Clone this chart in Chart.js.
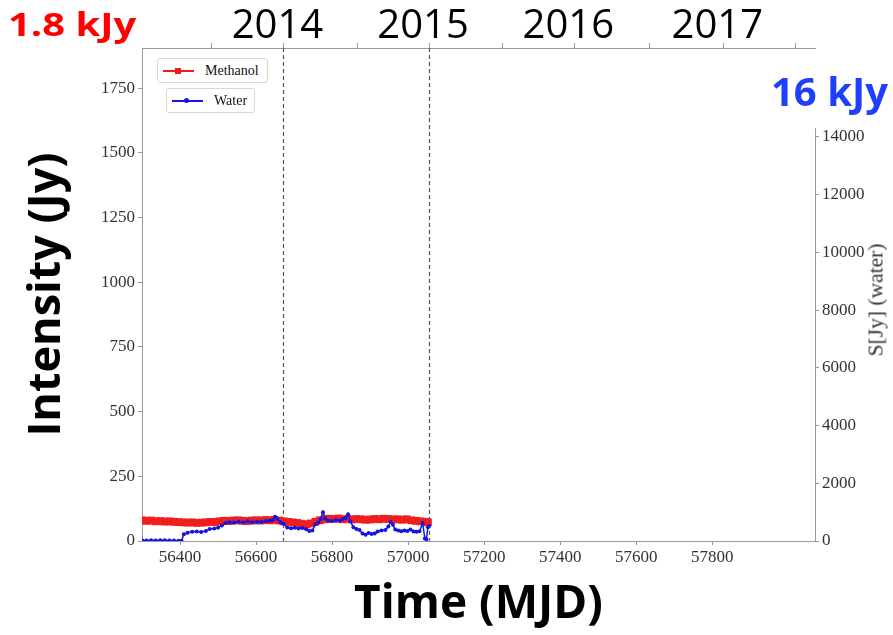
<!DOCTYPE html>
<html>
<head>
<meta charset="utf-8">
<script src="https://cdn.jsdelivr.net/npm/chart.js@4.4.0/dist/chart.umd.min.js"></script>
<style>
body{margin:0;background:#fff;}
#wrap{position:relative;width:893px;height:635px;}
#chartMaser{position:absolute;left:0;top:0;}
.note{position:absolute;font-family:"Open Sans",sans-serif;font-weight:700;line-height:1;white-space:nowrap;}
#noteMeth{left:8px;top:8px;font-size:40px;color:#ff0000;transform:scaleY(.8);transform-origin:0 0;}
#noteWater{left:771px;top:71px;font-size:40px;color:#1f3fff;}
#rightTitle{position:absolute;left:876px;top:300px;transform:translate(-50%,-50%) rotate(-90deg);
  font-family:"Liberation Serif",serif;font-size:21.5px;color:#333;white-space:nowrap;}
.legBox{position:absolute;height:25px;border:1px solid #d8d8d8;border-radius:3px;background:#fff;box-sizing:border-box;}
.legLine{position:absolute;left:5px;top:11px;width:31px;height:1.5px;}
.legSq{position:absolute;left:17px;top:9px;width:6px;height:6px;background:#ee1c1c;}
.legDot{position:absolute;left:17px;top:9px;width:5px;height:5px;border-radius:50%;background:#1515e0;}
.legText{position:absolute;left:47px;top:3px;font-family:"Liberation Serif",serif;font-size:14px;line-height:17px;color:#111;}
</style>
</head>
<body>
<div id="wrap">
  <canvas id="chartMaser" width="893" height="635"></canvas>
  <div class="note" id="noteMeth">1.8 kJy</div>
  <div class="note" id="noteWater">16 kJy</div>
  <div id="rightTitle">S[Jy] (water)</div>
  <div class="legBox" style="left:157px;top:58px;width:111px;">
    <span class="legLine" style="background:#ee1c1c"></span>
    <span class="legSq"></span>
    <span class="legText">Methanol</span>
  </div>
  <div class="legBox" style="left:166px;top:88px;width:89px;">
    <span class="legLine" style="background:#1515e0"></span>
    <span class="legDot"></span>
    <span class="legText">Water</span>
  </div>
</div>
<script>
/* ==========================================
   DATA
========================================== */
const methanolMjd = [56300,56312,56324,56336,56348,56360,56372,56384,56396,56408,
  56420,56432,56444,56456,56468,56480,56492,56504,56516,56528,
  56540,56552,56564,56576,56588,56600,56612,56624,56636,56648,
  56660,56672,56684,56696,56708,56720,56732,56744,56756,56768,
  56780,56792,56804,56816,56828,56840,56852,56864,56876,56888,
  56900,56912,56924,56936,56948,56960,56972,56984,56996,57008,
  57020,57032,57044,57052];
const methanolJy = [80,78,79,76,77,75,76,74,73,72,
  71,72,70,71,72,74,73,76,78,77,
  79,80,78,77,79,80,79,81,80,82,
  79,76,74,72,70,66,64,68,74,80,
  84,86,85,87,84,86,83,85,84,82,
  83,85,84,86,85,83,84,82,84,80,
  78,76,74,72];

const waterMjd = [56300,56312,56324,56336,56348,56360,56372,56384,56396,56404,
  56410,56420,56432,56444,56456,56468,56478,56490,56500,56510,
  56520,56530,56542,56554,56566,56578,56590,56602,56614,56626,
  56636,56644,56650,56656,56664,56672,56682,56692,56702,56712,
  56722,56732,56740,56748,56756,56764,56770,56776,56782,56790,
  56800,56810,56820,56828,56836,56842,56848,56856,56864,56872,
  56880,56888,56896,56904,56912,56920,56930,56940,56948,56954,
  56960,56966,56974,56982,56990,56998,57006,57014,57022,57030,
  57038,57044,57048,57052,57055];
const waterJy = [25,20,30,18,22,28,15,20,12,10,
  230,290,320,330,310,350,420,430,460,540,
  620,650,640,670,650,680,650,670,660,690,
  700,720,840,760,660,600,470,440,460,430,
  450,410,350,360,580,640,760,1000,780,700,
  690,730,700,760,800,930,680,480,420,380,
  260,220,280,240,260,330,360,380,500,660,
  560,400,360,340,360,350,400,330,320,340,
  620,90,60,480,520];

const bottomTicks = [56400,56600,56800,57000,57200,57400,57600,57800];
const leftTicks = [0,250,500,750,1000,1250,1500,1750];
const rightTicks = [0,2000,4000,6000,8000,10000,12000,14000];
const yearTickMjd = [56482,56672,56866,57055,57247,57437,57634,57829,58018];
const yearTickLabels = ["","2014","","2015","","2016","","2017",""];
const yearLineMjd = [56672,57055];

const mjdMin = 56300, mjdMax = 58070;
const leftMax = 1905, rightMax = 17080, rightSpineTop = 14300;

/* ==========================================
   PLUGINS
========================================== */
const yearLines = {
  id:"yearLines",
  beforeDatasetsDraw(chart){
    const {ctx, chartArea, scales} = chart;
    ctx.save();
    ctx.strokeStyle = "#555";
    ctx.lineWidth = 1.2;
    ctx.setLineDash([4,3]);
    yearLineMjd.forEach(m=>{
      const x = Math.round(scales.x.getPixelForValue(m)) + .5;
      ctx.beginPath();
      ctx.moveTo(x, chartArea.top);
      ctx.lineTo(x, chartArea.bottom);
      ctx.stroke();
    });
    ctx.restore();
  }
};

// right axis line only runs over the water scale part
const rightSpine = {
  id:"rightSpine",
  afterDraw(chart){
    const s = chart.scales.y2;
    const ctx = chart.ctx;
    const x = Math.round(s.left) + .5;
    ctx.save();
    ctx.strokeStyle = "#999";
    ctx.lineWidth = 1;
    ctx.beginPath();
    ctx.moveTo(x, s.getPixelForValue(rightSpineTop));
    ctx.lineTo(x, s.getPixelForValue(0));
    ctx.stroke();
    ctx.restore();
  }
};

/* ==========================================
   CHART
========================================== */
const tickFont = {family:"Liberation Serif", size:17};
const setTicks = list => s => { s.ticks = list.map(v=>({value:v})); };

new Chart(document.getElementById("chartMaser"), {
  type:"line",
  data:{
    datasets:[
      {
        label:"Water",
        data:waterMjd.map((m,i)=>({x:m, y:waterJy[i]})),
        xAxisID:"x",
        yAxisID:"y2",
        borderColor:"#1515e0",
        backgroundColor:"#1515e0",
        borderWidth:1.5,
        pointStyle:"circle",
        pointRadius:2,
        pointBorderWidth:0,
        order:0
      },
      {
        label:"Methanol",
        data:methanolMjd.map((m,i)=>({x:m, y:methanolJy[i]})),
        xAxisID:"x",
        yAxisID:"y",
        borderColor:"#f01e1e",
        backgroundColor:"#f01e1e",
        borderWidth:1.2,
        pointStyle:"rect",
        pointRadius:5.5,
        pointBorderWidth:0,
        order:1
      }
    ]
  },
  options:{
    responsive:false,
    animation:false,
    layout:{padding:0},
    plugins:{legend:{display:false}, tooltip:{enabled:false}},
    scales:{
      x:{
        type:"linear", position:"bottom", min:mjdMin, max:mjdMax,
        afterBuildTicks:setTicks(bottomTicks),
        afterFit:s=>{ s.height = 94; },
        grid:{drawOnChartArea:false, tickLength:4, color:"#999"},
        border:{color:"#999"},
        ticks:{font:tickFont, color:"#333", padding:2, autoSkip:false, maxRotation:0, callback:v=>String(v)},
        title:{display:true, text:"Time (MJD)", color:"#000",
          font:{family:"Open Sans", size:46, weight:"bold"}, padding:{top:0, bottom:3}}
      },
      x2:{
        type:"linear", position:"top", min:mjdMin, max:mjdMax,
        afterBuildTicks:setTicks(yearTickMjd),
        afterFit:s=>{ s.height = 48; },
        grid:{drawOnChartArea:false, tickLength:5, color:"#999"},
        border:{color:"#999"},
        ticks:{font:{family:"Open Sans", size:40, lineHeight:0.8}, color:"#000", padding:0,
          labelOffset:-6, autoSkip:false, maxRotation:0, callback:(v,i)=>yearTickLabels[i]}
      },
      y:{
        position:"left", min:0, max:leftMax,
        afterBuildTicks:setTicks(leftTicks),
        afterFit:s=>{ s.width = 142; },
        grid:{drawOnChartArea:false, tickLength:4, color:"#999"},
        border:{color:"#999"},
        ticks:{font:tickFont, color:"#333", padding:3, callback:v=>String(v)},
        title:{display:true, text:"Intensity (Jy)", color:"#000",
          font:{family:"Open Sans", size:45, weight:"bold"}, padding:{top:20, bottom:0}}
      },
      y2:{
        position:"right", min:0, max:rightMax,
        afterBuildTicks:setTicks(rightTicks),
        afterFit:s=>{ s.width = 78; },
        grid:{drawOnChartArea:false, tickLength:4, color:"#999"},
        border:{display:false},
        ticks:{font:tickFont, color:"#333", padding:3, callback:v=>String(v)}
      }
    }
  },
  plugins:[yearLines, rightSpine]
});
</script>
</body>
</html>
